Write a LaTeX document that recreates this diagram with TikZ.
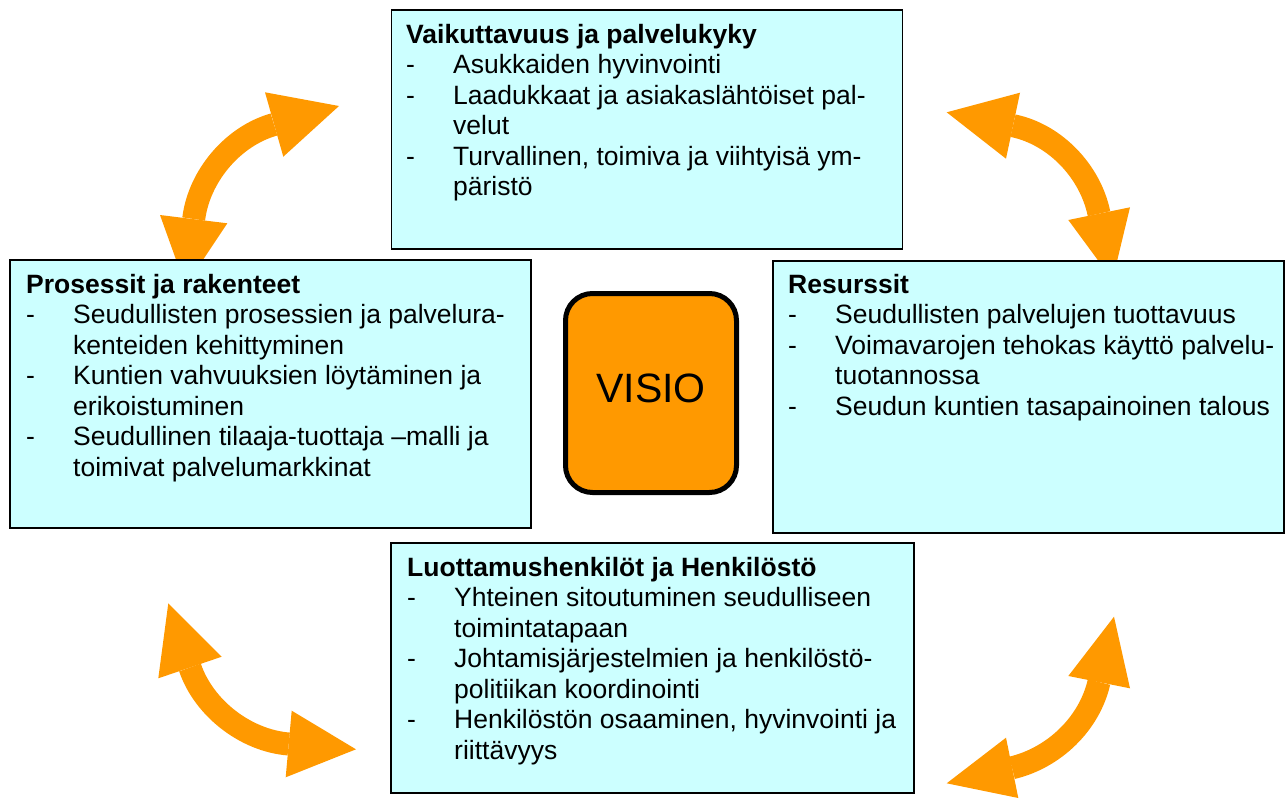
\documentclass[tikz,border=0pt]{standalone}
\usepackage{fontspec}
\setmainfont{Liberation Sans}
\usepackage{array}
\definecolor{boxfill}{HTML}{CCFFFF}
\definecolor{arroworange}{HTML}{FF9900}
\newcommand\bxrow[1]{- & #1\\}
\newcommand\bxcont[1]{ & #1\\}
\newcommand\bxtitle[1]{\multicolumn{2}{@{}l@{}}{\bfseries #1}\\}
\newenvironment{bxlist}{\begin{tabular}[t]{@{}p{47pt}@{}l@{}}}{\end{tabular}}
\begin{document}
\begin{tikzpicture}[x=1pt,y=-1pt,
  infobox/.style={draw=black, line width=1.5pt, fill=boxfill, rectangle, inner sep=0pt},
  boxtext/.style={anchor=base west, inner sep=0pt, font=\fontsize{26.5}{30.5}\selectfont},
  visiobox/.style={draw=black, line width=5pt, fill=arroworange, rounded corners=27pt,
     minimum width=171pt, minimum height=199pt, inner sep=0pt, text depth=10pt,
     font=\fontsize{41}{45}\selectfont},
  arrshaft/.style={draw=arroworange, line width=23pt},
  arrhead/.style={fill=arroworange}]
\useasboundingbox (0,0) rectangle (1285,798);

% curved double arrows (drawn first, boxes cover hidden tips)
% top-left
\coordinate (tlA) at (193.7,219); \coordinate (tlB) at (274,124.5);
\draw[arrshaft] (tlA) .. controls (198.9,176.3) and (232.7,136.1) .. (tlB);
\fill[arrhead] (339,106) -- (265,92.3) -- (283.3,156.7) -- cycle;
\fill[arrhead] (185.5,286) -- (160,215) -- (227.3,223.3) -- cycle;
% top-right
\coordinate (trA) at (1013,125.7); \coordinate (trB) at (1099,213.7);
\draw[arrshaft] (trA) .. controls (1055.1,134.3) and (1090.4,171.6) .. (trB);
\fill[arrhead] (946.7,112.3) -- (1020,92.7) -- (1006,158.7) -- cycle;
\fill[arrhead] (1112.5,280) -- (1068.3,220) -- (1130,207.3) -- cycle;
% bottom-left
\coordinate (blA) at (190,667.5); \coordinate (blB) at (288.7,744);
\draw[arrshaft] (blA) .. controls (203.8,708.2) and (245.8,740.6) .. (blB);
\fill[arrhead] (168.3,603.3) -- (158.3,678.3) -- (221.7,656.7) -- cycle;
\fill[arrhead] (356,749.3) -- (291.7,710.7) -- (285.7,777.3) -- cycle;
% bottom-right
\coordinate (brA) at (1012,767.8); \coordinate (brB) at (1099,682);
\draw[arrshaft] (brA) .. controls (1053.8,757.9) and (1089.4,723.9) .. (brB);
\fill[arrhead] (1114,616.7) -- (1068.3,676) -- (1130,688.3) -- cycle;
\fill[arrhead] (946.7,783.3) -- (1006,737.7) -- (1018.3,798) -- cycle;

% boxes
\node[infobox, minimum width=511pt, minimum height=239pt] (topbox) at (647,129.5) {};
\node[infobox, minimum width=521pt, minimum height=268pt] (leftbox) at (270.5,394) {};
\node[infobox, minimum width=511pt, minimum height=272pt] (rightbox) at (1028.5,397) {};
\node[infobox, minimum width=523pt, minimum height=250pt] (bottombox) at (652.5,668) {};

\node[visiobox] (visio) at (651,393) {VISIO};

% texts
\node[boxtext] (toptext) at (406,43) {\begin{bxlist}
\bxtitle{Vaikuttavuus ja palvelukyky}
\bxrow{Asukkaiden hyvinvointi}
\bxrow{Laadukkaat ja asiakaslähtöiset pal-}
\bxcont{velut}
\bxrow{Turvallinen, toimiva ja viihtyisä ym-}
\bxcont{päristö}
\end{bxlist}};

\node[boxtext] (lefttext) at (26,293) {\begin{bxlist}
\bxtitle{Prosessit ja rakenteet}
\bxrow{Seudullisten prosessien ja palvelura-}
\bxcont{kenteiden kehittyminen}
\bxrow{Kuntien vahvuuksien löytäminen ja}
\bxcont{erikoistuminen}
\bxrow{Seudullinen tilaaja-tuottaja –malli ja}
\bxcont{toimivat palvelumarkkinat}
\end{bxlist}};

\node[boxtext] (righttext) at (788,293) {\begin{bxlist}
\bxtitle{Resurssit}
\bxrow{Seudullisten palvelujen tuottavuus}
\bxrow{Voimavarojen tehokas käyttö palvelu-}
\bxcont{tuotannossa}
\bxrow{Seudun kuntien tasapainoinen talous}
\end{bxlist}};

\node[boxtext] (bottomtext) at (407,576) {\begin{bxlist}
\bxtitle{Luottamushenkilöt ja Henkilöstö}
\bxrow{Yhteinen sitoutuminen seudulliseen}
\bxcont{toimintatapaan}
\bxrow{Johtamisjärjestelmien ja henkilöstö-}
\bxcont{politiikan koordinointi}
\bxrow{Henkilöstön osaaminen, hyvinvointi ja}
\bxcont{riittävyys}
\end{bxlist}};
\end{tikzpicture}
\end{document}
